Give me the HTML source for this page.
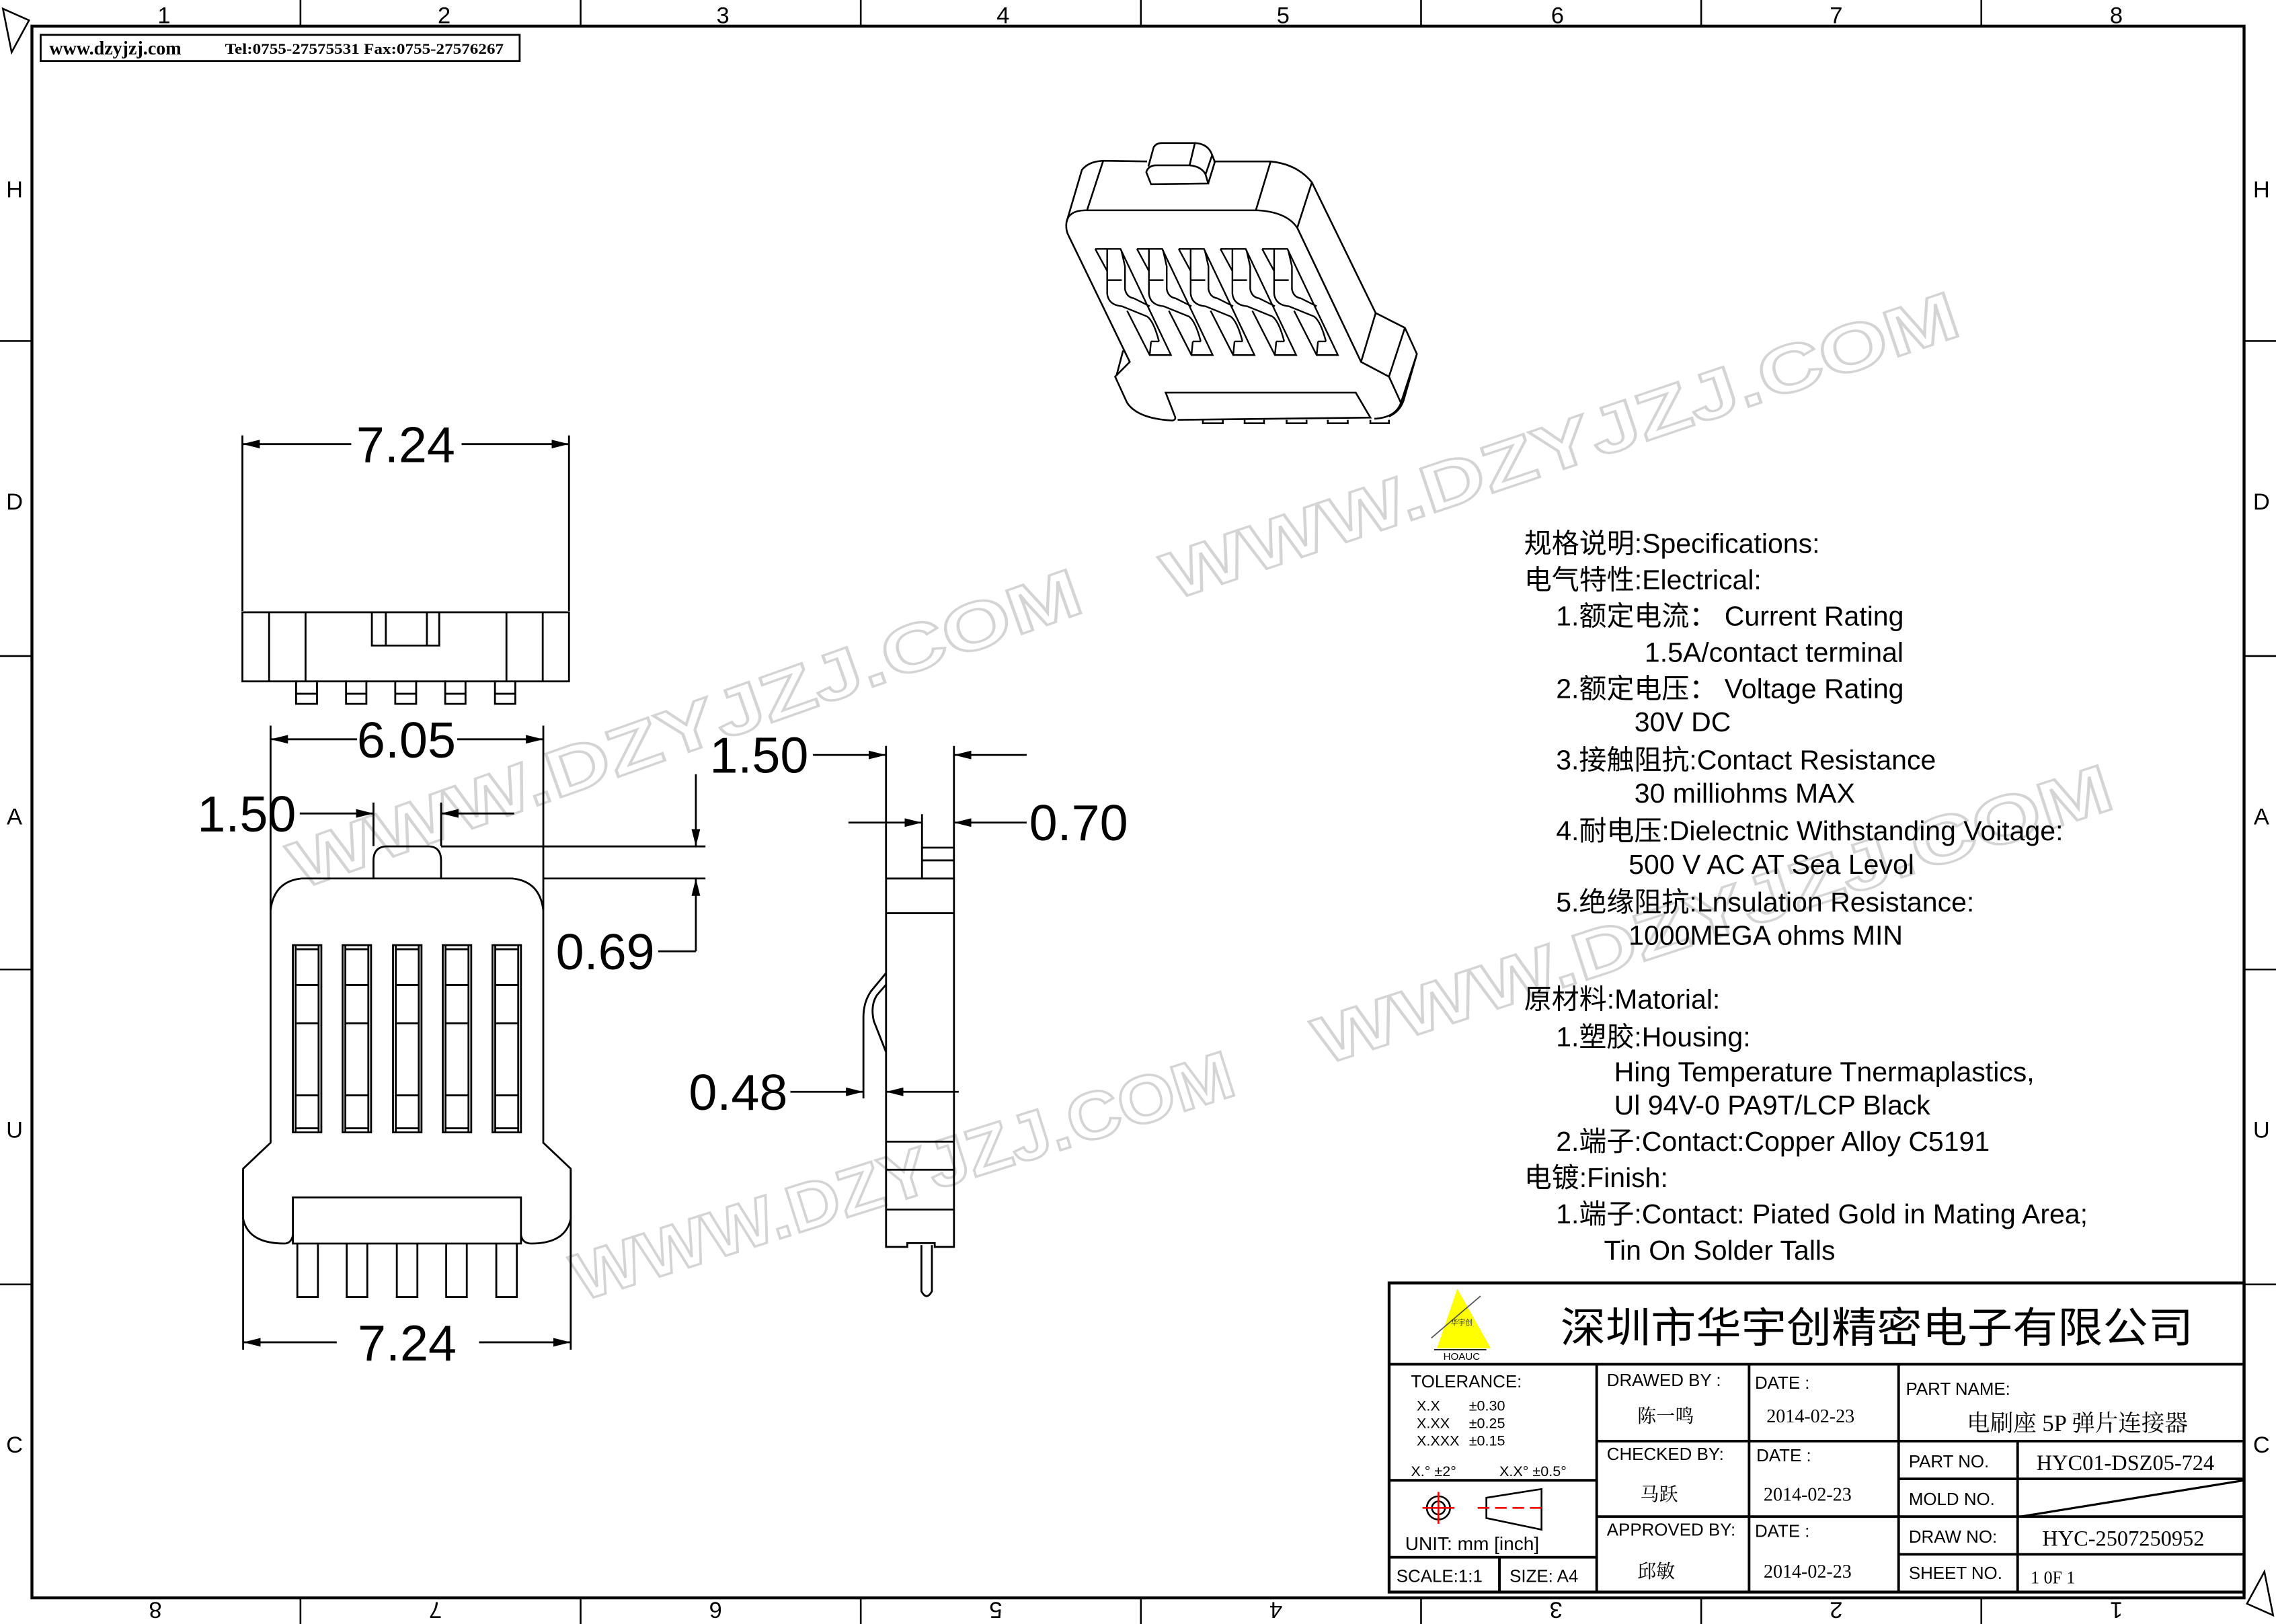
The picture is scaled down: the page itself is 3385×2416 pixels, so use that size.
<!DOCTYPE html>
<html><head><meta charset="utf-8"><style>
html,body{margin:0;padding:0;background:#fff;}
svg{display:block;}
.t{font-family:"Liberation Sans","Noto Sans CJK SC",sans-serif;}
.s{font-family:"Liberation Serif","Noto Serif CJK SC","Noto Sans CJK SC",serif;}
</style></head><body>
<svg xmlns="http://www.w3.org/2000/svg" width="3385" height="2416" viewBox="0 0 1568 1119" preserveAspectRatio="none">
<defs>
<marker id="a" viewBox="0 0 12 6" refX="12" refY="3" markerWidth="12" markerHeight="6" orient="auto" markerUnits="userSpaceOnUse"><path d="M0,0 L12,3 L0,6z" fill="#000"/></marker>
</defs>
<rect width="1568" height="1119" fill="#fff"/>

<!-- watermarks -->
<g class="t" font-size="46" font-weight="bold" fill="#fff" stroke="#d4d4d4" stroke-width="1.6">
<text x="472" y="518" text-anchor="middle" transform="rotate(-19.5 472 502)" textLength="575" lengthAdjust="spacingAndGlyphs">WWW.DZYJZJ.COM</text>
<text x="1075" y="323" text-anchor="middle" transform="rotate(-18.6 1075 307)" textLength="575" lengthAdjust="spacingAndGlyphs">WWW.DZYJZJ.COM</text>
<text x="622" y="826" text-anchor="middle" transform="rotate(-17.5 622 810)" textLength="475" lengthAdjust="spacingAndGlyphs">WWW.DZYJZJ.COM</text>
<text x="1180" y="646" text-anchor="middle" transform="rotate(-18 1180 630)" textLength="575" lengthAdjust="spacingAndGlyphs">WWW.DZYJZJ.COM</text>
</g>

<!-- frame -->
<g stroke="#000" fill="none">
<rect x="22" y="18" width="1524" height="1083" stroke-width="2"/>
<g stroke-width="1.2">
<path d="M207,0V18 M400,0V18 M593,0V18 M786,0V18 M979,0V18 M1172,0V18 M1365,0V18"/>
<path d="M207,1101V1119 M400,1101V1119 M593,1101V1119 M786,1101V1119 M979,1101V1119 M1172,1101V1119 M1365,1101V1119"/>
<path d="M0,235H22 M0,452H22 M0,668H22 M0,885H22 M1546,235H1568 M1546,452H1568 M1546,668H1568 M1546,885H1568"/>
<path d="M2,6 L20,14 L8,36 Z"/>
<path d="M1566,1113 L1548,1105 L1560,1083 Z"/>
</g>
</g>
<g class="t" font-size="16" text-anchor="middle">
<text x="113" y="16">1</text><text x="306" y="16">2</text><text x="498" y="16">3</text><text x="691" y="16">4</text>
<text x="884" y="16">5</text><text x="1073" y="16">6</text><text x="1265" y="16">7</text><text x="1458" y="16">8</text>
<g transform="rotate(180 784 1110)">
<text x="110" y="1116">1</text><text x="303" y="1116">2</text><text x="496" y="1116">3</text><text x="689" y="1116">4</text>
<text x="882" y="1116">5</text><text x="1075" y="1116">6</text><text x="1268" y="1116">7</text><text x="1461" y="1116">8</text>
</g>
<text x="10" y="136">H</text><text x="10" y="351">D</text><text x="10" y="568">A</text><text x="10" y="784">U</text><text x="10" y="1001">C</text>
<text x="1558" y="136">H</text><text x="1558" y="351">D</text><text x="1558" y="568">A</text><text x="1558" y="784">U</text><text x="1558" y="1001">C</text>
</g>

<!-- header box -->
<rect x="28" y="24" width="330" height="18" fill="#fff" stroke="#000" stroke-width="1.3"/>
<text class="s" x="34" y="37.5" font-size="13" font-weight="bold">www.dzyjzj.com</text>
<text class="s" x="155" y="37" font-size="10.5" font-weight="bold" textLength="192" lengthAdjust="spacingAndGlyphs">Tel:0755-27575531  Fax:0755-27576267</text>

<!-- top view -->
<g stroke="#000" stroke-width="1.3" fill="none">
<path d="M167,300V421 M392,300V421"/>
<rect x="167" y="421.9" width="225" height="47.6"/>
<path d="M185.4,421.9V469.5 M210.5,421.9V469.5 M348.9,421.9V469.5 M373.9,421.9V469.5"/>
<path d="M256.2,421.9V444.8H302.6V421.9 M265.8,421.9V444.8 M294.1,421.9V444.8"/>
<path d="M204,469.5V485H218.4V469.5 M204,478H218.4 M238.4,469.5V485H252.4V469.5 M238.4,478H252.4 M272.3,469.5V485H286.7V469.5 M272.3,478H286.7 M306.7,469.5V485H320.7V469.5 M306.7,478H320.7 M341,469.5V485H355V469.5 M341,478H355"/>
<path d="M242,306H167" marker-end="url(#a)"/><path d="M318,306H392" marker-end="url(#a)"/>
</g>
<text class="t" x="279.5" y="318.5" font-size="35" text-anchor="middle">7.24</text>

<!-- front view -->
<g transform="translate(129.7,491) scale(0.2363,0.2836)" stroke="#000" fill="none" stroke-width="2.8">
<path vector-effect="non-scaling-stroke" d="M540,403 L540,360 Q540,325 580,325 L700,325 Q737,325 737,360 L737,403"/>
<path vector-effect="non-scaling-stroke" d="M330,403 L945,403 Q1025,410 1035,480 L1035,1045 L1115,1108 L1115,1230 Q1100,1290 1000,1290 Q975,1290 970,1270"/>
<path vector-effect="non-scaling-stroke" d="M330,403 Q250,410 240,480 L240,1045 L160,1108 L160,1230 Q175,1290 280,1290 Q300,1290 305,1270"/>
<rect vector-effect="non-scaling-stroke" x="305" y="1178" width="665" height="112"/>
<path vector-effect="non-scaling-stroke" d="M305,565h83v455h-83z M313,565V1020 M380,565V1020 M313,575H380 M313,662H380 M313,755H380 M313,930H380 M313,1010H380"/>
<path vector-effect="non-scaling-stroke" d="M450,565h83v455h-83z M458,565V1020 M525,565V1020 M458,575H525 M458,662H525 M458,755H525 M458,930H525 M458,1010H525"/>
<path vector-effect="non-scaling-stroke" d="M597,565h83v455h-83z M605,565V1020 M672,565V1020 M605,575H672 M605,662H672 M605,755H672 M605,930H672 M605,1010H672"/>
<path vector-effect="non-scaling-stroke" d="M742,565h83v455h-83z M750,565V1020 M817,565V1020 M750,575H817 M750,662H817 M750,755H817 M750,930H817 M750,1010H817"/>
<path vector-effect="non-scaling-stroke" d="M887,565h83v455h-83z M895,565V1020 M962,565V1020 M895,575H962 M895,662H962 M895,755H962 M895,930H962 M895,1010H962"/>
<path vector-effect="non-scaling-stroke" d="M318,1290V1420H378V1290 M462,1290V1420H522V1290 M608,1290V1420H668V1290 M752,1290V1420H812V1290 M898,1290V1420H958V1290"/>
</g>
<g stroke="#000" stroke-width="1.3" fill="none">
<path d="M186.4,500V627 M374.3,500V627"/>
<path d="M246,509.4H186.4" marker-end="url(#a)"/><path d="M315,509.4H374.3" marker-end="url(#a)"/>
<path d="M257.3,553V583 M303.9,553V583"/>
<path d="M206.5,560.5H257.3" marker-end="url(#a)"/><path d="M354.2,560.5H303.9" marker-end="url(#a)"/>
<path d="M303.9,583.2H486 M374.3,605.3H486"/>
<path d="M479.4,533.5V583.2" marker-end="url(#a)"/><path d="M479.4,655.5V605.3" marker-end="url(#a)"/>
<path d="M479.4,655.5H453.4"/>
<path d="M167.5,806V930 M393.2,806V930"/>
<path d="M232,924.9H167.5" marker-end="url(#a)"/><path d="M330,924.9H393.2" marker-end="url(#a)"/>
</g>
<g class="t" font-size="35">
<text x="280" y="522" text-anchor="middle">6.05</text>
<text x="204" y="573" text-anchor="end">1.50</text>
<text x="451" y="668" text-anchor="end">0.69</text>
<text x="280.5" y="937.5" text-anchor="middle">7.24</text>
</g>

<!-- side view -->
<g transform="translate(472.4,491) scale(0.19496,0.26585)" stroke="#000" fill="none" stroke-width="2.8">
<path vector-effect="non-scaling-stroke" d="M708,430 H948 V1385 H880 V1375 H783 V1385 H708 Z"/>
<path vector-effect="non-scaling-stroke" d="M835,430 V350 H948 M835,383 H948"/>
<path vector-effect="non-scaling-stroke" d="M708,520H948 M708,1112H948 M708,1185H948 M708,1288H948"/>
<path vector-effect="non-scaling-stroke" d="M708,675 L655,722 Q628,750 628,790 L628,1000 M708,705 L675,733 Q652,760 665,800 L708,880"/>
<path vector-effect="non-scaling-stroke" d="M833,1380 V1500 Q851,1525 870,1500 V1380"/>
</g>
<g stroke="#000" stroke-width="1.3" fill="none">
<path d="M610.4,514V605 M657.2,514V605 M635.2,561V584"/>
<path d="M560.1,520.2H610.4" marker-end="url(#a)"/><path d="M707.3,520.2H657.2" marker-end="url(#a)"/>
<path d="M584.5,566.8H635.2" marker-end="url(#a)"/><path d="M707.3,566.8H657.2" marker-end="url(#a)"/>
<path d="M544.5,752.3H594.8" marker-end="url(#a)"/><path d="M660.5,752.3H610.4" marker-end="url(#a)"/>
</g>
<g class="t" font-size="35">
<text x="557" y="532.5" text-anchor="end">1.50</text>
<text x="709" y="579">0.70</text>
<text x="542.6" y="764.6" text-anchor="end">0.48</text>
</g>

<!-- isometric -->
<g transform="translate(717.9,83.37) scale(0.18314,0.1566)" stroke="#000" fill="none">
<g stroke-width="2.6">
<path vector-effect="non-scaling-stroke" d="M92,445 L150,215 Q175,178 230,175 L395,178 M645,178 L860,178 Q960,190 1015,270 L960,470"/>
<path vector-effect="non-scaling-stroke" d="M230,175 L170,390 M860,178 L805,390"/>
<path vector-effect="non-scaling-stroke" d="M92,445 Q100,395 160,393 L810,393 Q920,400 960,470 L1200,1060 L1305,1125 L1350,1240 Q1330,1305 1250,1310"/>
<path vector-effect="non-scaling-stroke" d="M92,445 Q88,480 100,505 L330,1060 L275,1125 L320,1240 Q360,1310 490,1318 Q505,1315 500,1300 L465,1195 L1180,1195 L1235,1305 L510,1315 M305,1010 L280,1120"/>
<path vector-effect="non-scaling-stroke" d="M1015,270 L1255,845 L1365,910 L1410,1025 L1360,1230 Q1345,1280 1305,1300 M1255,845 L1200,1060 M1365,910 L1305,1125 M1410,1025 L1350,1240"/>
<path vector-effect="non-scaling-stroke" d="M392,225 Q400,195 430,195 L555,195 Q600,200 615,235 L625,275 L410,278 Z M400,200 L420,115 Q430,97 450,97 L575,97 Q625,100 640,150 L650,180 L625,275 M575,97 L555,195 M615,235 L640,150"/>
<path vector-effect="non-scaling-stroke" d="M605,1315v15h75v-15 M762,1315v15h73v-15 M920,1315v15h75v-15 M1075,1315v15h75v-15 M1235,1315v15h70v-15"/>
</g>
<g stroke-width="2.4">
<path id="sl" vector-effect="non-scaling-stroke" d="M200,563 L295,563 L485,1030 L405,1030 L320,835 M200,563 L245,660 M245,565 L245,760 Q250,810 300,815 L395,860 Q420,880 440,970 M245,700 L300,700 M298,568 L312,640 L312,740 Q318,775 345,780 L405,815 M410,970 L440,970 M410,970 L405,1030"/>
<use href="#sl" x="157"/><use href="#sl" x="314"/><use href="#sl" x="471"/><use href="#sl" x="628"/>
</g>
</g>

<!-- specs -->
<g class="t" font-size="19">
<text x="1050" y="381">规格说明:Specifications:</text>
<text x="1050" y="406">电气特性:Electrical:</text>
<text x="1072" y="431">1.额定电流：  Current Rating</text>
<text x="1133" y="456">1.5A/contact terminal</text>
<text x="1072" y="481">2.额定电压：  Voltage Rating</text>
<text x="1126" y="504">30V DC</text>
<text x="1072" y="530">3.接触阻抗:Contact Resistance</text>
<text x="1126" y="553">30 milliohms MAX</text>
<text x="1072" y="579">4.耐电压:Dielectnic Withstanding Voitage:</text>
<text x="1122" y="602">500 V AC AT Sea Levol</text>
<text x="1072" y="628">5.绝缘阻抗:Lnsulation Resistance:</text>
<text x="1122" y="651">1000MEGA ohms MIN</text>
<text x="1050" y="695">原材料:Matorial:</text>
<text x="1072" y="721">1.塑胶:Housing:</text>
<text x="1112" y="745">Hing Temperature  Tnermaplastics,</text>
<text x="1112" y="768">Ul 94V-0 PA9T/LCP  Black</text>
<text x="1072" y="793">2.端子:Contact:Copper Alloy C5191</text>
<text x="1050" y="818">电镀:Finish:</text>
<text x="1072" y="843">1.端子:Contact: Piated Gold in Mating Area;</text>
<text x="1105" y="868">Tin On Solder Talls</text>
</g>

<!-- title block -->
<g stroke="#000" fill="none">
<rect x="957" y="884" width="589" height="213" stroke-width="2"/>
<path stroke-width="1.8" d="M957,940H1546 M1100,940V1097 M1205,940V1097 M1308,940V1097 M957,1020H1100 M957,1073H1100 M1033,1073V1097 M1100,993H1546 M1100,1045H1546 M1308,1019H1546 M1308,1071H1546 M1390,993V1097"/>
<path stroke-width="1.5" d="M1392,1045 L1546,1020"/>
</g>
<polygon points="1004,888 990,929 1027,929" fill="#ffff00"/>
<path d="M986,922 L1020,893" stroke="#555" stroke-width="0.8" fill="none"/>
<text class="t" x="1007" y="913" font-size="5" text-anchor="middle" fill="#333">华宇创</text>
<path d="M988,930H1024" stroke="#000" stroke-width="0.8"/>
<text class="t" x="1007" y="937" font-size="7" text-anchor="middle">HOAUC</text>
<text class="t" x="1075" y="925" font-size="29" textLength="436" lengthAdjust="spacingAndGlyphs">深圳市华宇创精密电子有限公司</text>

<g class="t" font-size="12">
<text x="972" y="956">TOLERANCE:</text>
<g font-size="10"><text x="976" y="972">X.X</text><text x="1012" y="972">±0.30</text>
<text x="976" y="984">X.XX</text><text x="1012" y="984">±0.25</text>
<text x="976" y="996">X.XXX</text><text x="1012" y="996">±0.15</text>
<text x="972" y="1017">X.°  ±2°</text><text x="1033" y="1017">X.X° ±0.5°</text></g>
<text x="968" y="1068" font-size="13">UNIT:  mm  [inch]</text>
<text x="962" y="1090">SCALE:1:1</text><text x="1040" y="1090">SIZE: A4</text>
<text x="1107" y="955">DRAWED BY :</text><text x="1209" y="957">DATE :</text>
<text x="1107" y="1006">CHECKED BY:</text><text x="1210" y="1007">DATE :</text>
<text x="1107" y="1058">APPROVED BY:</text><text x="1209" y="1059">DATE :</text>
<text x="1313" y="961">PART NAME:</text>
<text x="1315" y="1011">PART NO.</text>
<text x="1315" y="1037">MOLD NO.</text>
<text x="1315" y="1063">DRAW NO:</text>
<text x="1315" y="1088">SHEET NO.</text>
</g>
<g class="s" font-size="13">
<text x="1128" y="980">陈一鸣</text><text x="1217" y="980">2014-02-23</text>
<text x="1130" y="1034">马跃</text><text x="1215" y="1034">2014-02-23</text>
<text x="1128" y="1087">邱敏</text><text x="1215" y="1087">2014-02-23</text>
<text x="1355" y="986" font-size="16">电刷座 5P 弹片连接器</text>
<text x="1403" y="1013" font-size="15">HYC01-DSZ05-724</text>
<text x="1407" y="1065" font-size="15">HYC-2507250952</text>
<text x="1399" y="1091" font-size="12">1 0F 1</text>
</g>
<g stroke-width="1.2" fill="none">
<circle cx="991" cy="1039" r="8" stroke="#000"/><circle cx="991" cy="1039" r="4.5" stroke="#000"/>
<path d="M980,1039H1002 M991,1028V1050" stroke="#e00"/>
<path d="M1024,1032 L1062,1026 L1062,1054 L1024,1046 Z" stroke="#000"/>
<path d="M1018,1039H1066" stroke="#e00" stroke-dasharray="8,4"/>
</g>
</svg>
</body></html>
